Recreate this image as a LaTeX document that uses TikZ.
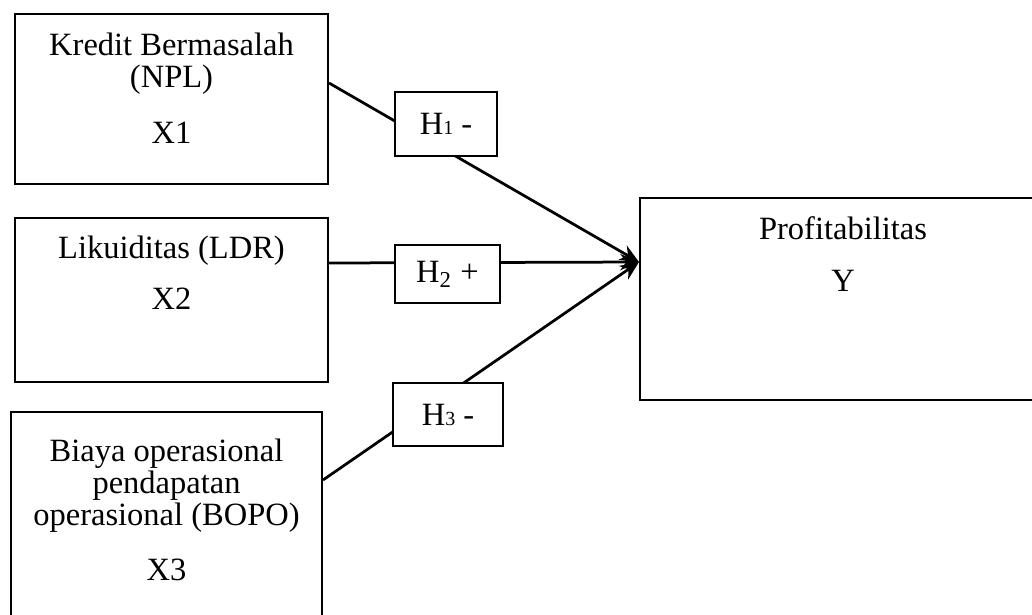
\documentclass[tikz,border=0pt]{standalone}
\usepackage{fontspec}
\setmainfont{Liberation Serif}
\usetikzlibrary{arrows.meta}
\tikzstyle{varbox} = [draw, line width=0.8pt, inner sep=0pt, anchor=north west]
\tikzstyle{hypbox} = [draw, fill=white, line width=0.7pt, inner sep=0pt, minimum width=42pt, minimum height=25pt]
\tikzstyle{arrow} = [line width=1.1pt, -{Stealth[length=7.5pt,width=6.5pt]}]

\begin{document}
\begin{tikzpicture}[x=0.4pt,y=-0.4pt,font=\fontsize{13}{12.8}\selectfont]
\useasboundingbox (0,0) rectangle (1032,614);

% variabel X
\node[varbox] (x1) at (14,13)
  {\parbox[c][68pt][t]{125.2pt}{\centering\rule{0pt}{16.4pt}Kredit Bermasalah\\(NPL)\\[9.6pt]X1}};
\node[varbox] (x2) at (14,217)
  {\parbox[c][65.6pt][t]{125.2pt}{\centering\rule{0pt}{16pt}Likuiditas (LDR)\\[7.6pt]X2}};
\node[varbox] (x3) at (10,411)
  {\parbox[c][91.6pt][t]{124.4pt}{\centering\rule{0pt}{19.6pt}Biaya operasional\\pendapatan\\operasional (BOPO)\\[9.2pt]X3}};

% variabel Y
\node[varbox] (y) at (639,197)
  {\parbox[c][80.8pt][t]{162.4pt}{\centering\rule{0pt}{16.4pt}Profitabilitas\\[8pt]Y}};
\coordinate (tip) at ([yshift=14.8pt]y.west);

\draw[arrow] ([yshift=6.4pt]x1.east) -- (tip);
\draw[arrow] ([yshift=14.8pt]x2.east) -- (tip);
\draw[arrow] ([yshift=-27.6pt]x3.north east) -- (tip);

% hipotesis
\node[hypbox, minimum width=40.8pt, minimum height=25.6pt] (h1) at (446,124) {H{\fontsize{8}{8}\selectfont 1} -};
\node[hypbox, minimum height=23.2pt] (h2) at (447.5,274) {H\textsubscript{2} +};
\node[hypbox, minimum width=44pt] (h3) at (448,414.5) {H{\fontsize{8}{8}\selectfont 3} -};
\end{tikzpicture}
\end{document}
